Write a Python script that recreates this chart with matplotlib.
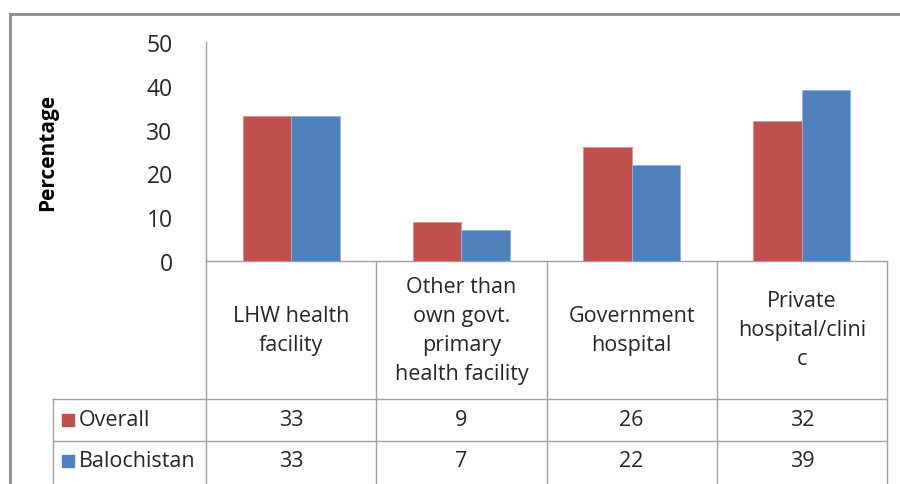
import matplotlib
matplotlib.use("Agg")
import matplotlib.pyplot as plt
from matplotlib.lines import Line2D
import matplotlib.transforms as mtransforms

categories = ["LHW health\nfacility",
              "Other than\nown govt.\nprimary\nhealth facility",
              "Government\nhospital",
              "Private\nhospital/clini\nc"]
series_names = ["Overall", "Balochistan"]
overall = [33, 9, 26, 32]
balochistan = [33, 7, 22, 39]
yticks = [0, 10, 20, 30, 40, 50]

RED = "#C0504D"
BLUE = "#4F81BD"
GRID = "#A0A0A0"
TXT = "#262626"
FONT = ["Open Sans", "DejaVu Sans"]
plt.rcParams["font.family"] = FONT

W, H = 900, 485
fig = plt.figure(figsize=(9, 4.85), dpi=100)

# outer chart frame
fig.add_artist(Line2D([10/W, 10/W], [0, 1 - 15/H], transform=fig.transFigure, color="#8C8C8C", lw=2))
fig.add_artist(Line2D([10/W, 1], [1 - 15/H, 1 - 15/H], transform=fig.transFigure, color="#8C8C8C", lw=2))

left_px, right_px, top_px, bot_px = 206, 887, 43, 262
ax = fig.add_axes([left_px/W, 1 - bot_px/H, (right_px-left_px)/W, (bot_px-top_px)/H])

n = len(categories)
x = list(range(n))
bw = 0.285
ax.bar([i - bw/2 for i in x], overall, width=bw, color=RED, edgecolor="#D9928F", linewidth=0.6, zorder=3)
ax.bar([i + bw/2 for i in x], balochistan, width=bw, color=BLUE, edgecolor="#93B1D8", linewidth=0.6, zorder=3)

ax.set_xlim(-0.5, n - 0.5)
ax.set_ylim(0, 50)
ax.set_yticks(yticks)
ax.set_yticklabels([str(v) for v in yticks], fontsize=16.5, color=TXT)
ax.tick_params(axis="y", length=0, pad=24)
ax.set_xticks([])
for s in ["top", "right", "bottom"]:
    ax.spines[s].set_visible(False)
ax.spines["left"].set_color(GRID)
ax.spines["left"].set_linewidth(1.0)

ax.set_ylabel("Percentage", fontsize=15, fontweight="bold", color="black")
ax.yaxis.set_label_coords((58 - left_px)/(right_px - left_px), 0.5)

# data table below the plot
trans = mtransforms.blended_transform_factory(ax.transData, ax.transAxes)
ph = bot_px - top_px
def ya(py):
    return (bot_px - py) / ph
def xd(px):
    return -0.5 + (px - left_px) / ((right_px - left_px) / n)

y_top = 0.0
y_r1 = ya(400)
y_r2 = ya(442)
y_r3 = ya(486)
x_leg = xd(53)

kw = dict(transform=trans, clip_on=False, color=GRID, lw=1.0, zorder=1)
ax.plot([-0.5, n - 0.5], [y_top, y_top], **kw)
ax.plot([x_leg, n - 0.5], [y_r1, y_r1], **kw)
ax.plot([x_leg, n - 0.5], [y_r2, y_r2], **kw)
ax.plot([x_leg, x_leg], [y_r1, y_r3], **kw)
for b in range(n + 1):
    ax.plot([b - 0.5, b - 0.5], [y_top, y_r3], **kw)

for i, c in enumerate(categories):
    ax.text(i, ya(331), c, transform=trans, ha="center", va="center",
            fontsize=15.5, color=TXT, linespacing=1.5, clip_on=False)

rows = [(series_names[0], overall, RED, ya(421)),
        (series_names[1], balochistan, BLUE, ya(462))]
for name, vals, col, yc in rows:
    for i, v in enumerate(vals):
        ax.text(i, yc, str(v), transform=trans, ha="center", va="center",
                fontsize=15.5, color=TXT, clip_on=False)
    ax.plot([xd(68)], [yc], marker="s", markersize=9, color=col, transform=trans,
            clip_on=False, linestyle="none")
    ax.text(xd(79), yc, name, transform=trans, ha="left", va="center",
            fontsize=15.5, color=TXT, clip_on=False)

fig.savefig("out.png", dpi=100)
